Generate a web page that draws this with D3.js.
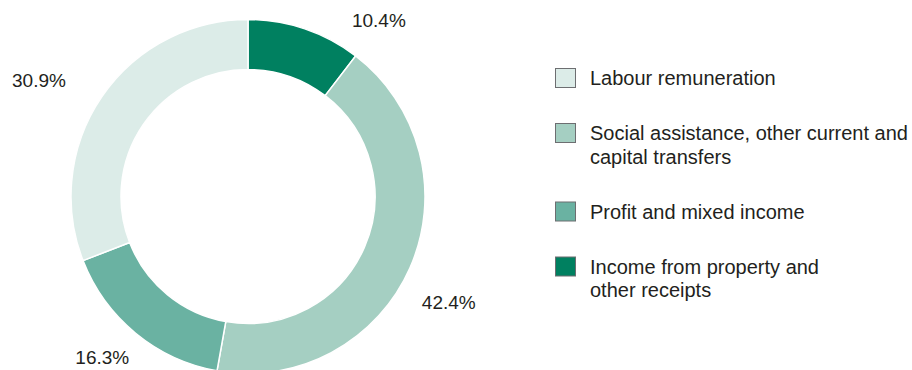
<!DOCTYPE html>
<html>
<head>
<meta charset="utf-8">
<script src="https://cdn.jsdelivr.net/npm/d3@7"></script>
<style>
  html, body { margin: 0; padding: 0; background: #fff; }
  svg { display: block; font-family: "Liberation Sans", Arial, Helvetica, sans-serif; }
</style>
</head>
<body>
<svg id="chart" width="912" height="370"></svg>
<script>
// Household income by source, share of total (%)
const categories = [
  "Labour remuneration",
  "Social assistance, other current and capital transfers",
  "Profit and mixed income",
  "Income from property and other receipts"
];
const legendLines = [
  ["Labour remuneration"],
  ["Social assistance, other current and", "capital transfers"],
  ["Profit and mixed income"],
  ["Income from property and", "other receipts"]
];
const shares = [30.9, 42.4, 16.3, 10.4];
const colors = ["#dcece8", "#a5cfc2", "#6ab2a2", "#008060"];
// Clockwise drawing order starting at 12 o'clock
const ringOrder = [3, 1, 2, 0];
// Label placement around the ring: angle (degrees from top, clockwise) and radius
const labelAngle = [299, 117.8, 222.2, 36.7];
const labelRadius = [239, 227, 217, 219];

const svg = d3.select("#chart");
const cx = 248, cy = 196.5, outerR = 177, innerR = 127;

const pie = d3.pie()
  .sort(null)
  .value(i => shares[i]);

const arc = d3.arc().innerRadius(innerR).outerRadius(outerR);

const ring = svg.append("g").attr("transform", `translate(${cx},${cy})`);

ring.selectAll("path")
  .data(pie(ringOrder))
  .join("path")
  .attr("d", arc)
  .attr("fill", d => colors[d.data])
  .attr("stroke", "#fff")
  .attr("stroke-width", 1.5);

const fmt = d3.format(".1f");
ring.selectAll("text.pct")
  .data(ringOrder)
  .join("text")
  .attr("class", "pct")
  .attr("x", i => labelRadius[i] * Math.sin(labelAngle[i] * Math.PI / 180))
  .attr("y", i => -labelRadius[i] * Math.cos(labelAngle[i] * Math.PI / 180))
  .attr("text-anchor", "middle")
  .attr("dominant-baseline", "central")
  .attr("font-size", 19)
  .attr("fill", "#231f20")
  .text(i => fmt(shares[i]) + "%");

// Legend
const lineH = 23.5, itemGap = 55, legendTop = 78;
let yPos = legendTop;
const legendY = legendLines.map(lines => {
  const y = yPos;
  yPos += (lines.length - 1) * lineH + itemGap;
  return y;
});

const legend = svg.append("g");
const item = legend.selectAll("g")
  .data(d3.range(categories.length))
  .join("g")
  .attr("transform", i => `translate(0,${legendY[i]})`);

item.append("rect")
  .attr("x", 555.5)
  .attr("y", -9.5)
  .attr("width", 20)
  .attr("height", 19)
  .attr("fill", i => colors[i])
  .attr("stroke", "#6d6e71")
  .attr("stroke-width", 1);

item.append("text")
  .attr("x", 590)
  .attr("font-size", 20)
  .attr("fill", "#231f20")
  .selectAll("tspan")
  .data(i => legendLines[i])
  .join("tspan")
  .attr("x", 590)
  .attr("y", (d, j) => j * lineH)
  .attr("dominant-baseline", "central")
  .text(d => d);
</script>
</body>
</html>
